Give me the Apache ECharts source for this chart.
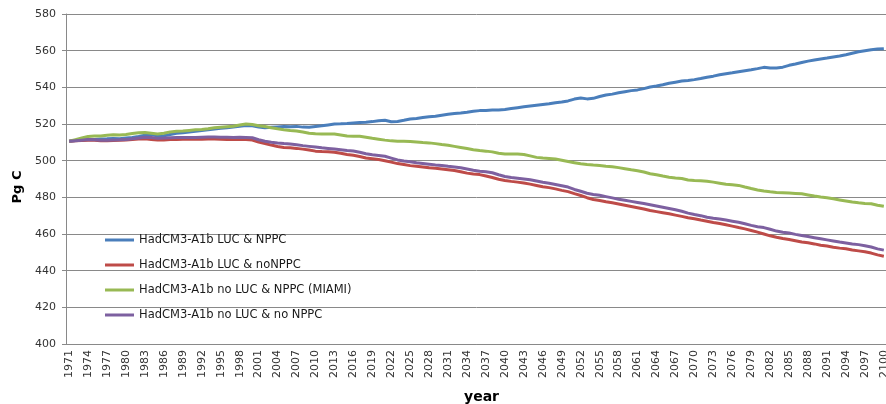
<!DOCTYPE html>
<html>
<head>
<meta charset="utf-8">
<script src="https://cdn.jsdelivr.net/npm/echarts@6/dist/echarts.min.js"></script>
<style>
  html, body { margin: 0; padding: 0; background: #ffffff; }
  #chart { width: 886px; height: 404px; }
</style>
</head>
<body>
<div id="chart"></div>
<script>
// Years on the category axis, 1971 to 2100
const years = [];
for (let y = 1971; y <= 2100; y++) years.push(String(y));

// Y axis ticks (Pg C)
const yTicks = [400, 420, 440, 460, 480, 500, 520, 540, 560, 580];

const seriesNames = [
  'HadCM3-A1b LUC & NPPC',
  'HadCM3-A1b LUC & noNPPC',
  'HadCM3-A1b no LUC & NPPC (MIAMI)',
  'HadCM3-A1b no LUC & no NPPC'
];

// HadCM3-A1b LUC & NPPC
const lucNppc = [
  510.6, 511.0, 511.3, 511.6, 511.5, 511.8, 511.9, 512.1, 512.0, 512.3,
  512.6, 513.2, 513.9, 514.2, 513.4, 513.6, 514.3, 514.9, 515.2, 515.6,
  516.0, 516.5, 516.8, 517.3, 517.7, 518.0, 518.3, 518.7, 519.2, 519.0,
  518.4, 518.0, 518.2, 518.4, 518.6, 518.5, 518.7, 518.3, 518.2, 518.6,
  519.0, 519.5, 520.0, 520.1, 520.3, 520.6, 520.8, 521.0, 521.3, 521.8,
  522.0, 521.2, 521.4, 522.0, 522.7, 523.0, 523.5, 523.9, 524.2, 524.8,
  525.3, 525.7, 526.0, 526.4, 526.9, 527.3, 527.4, 527.6, 527.7, 527.9,
  528.4, 528.9, 529.4, 529.8, 530.2, 530.6, 531.0, 531.6, 532.0, 532.6,
  533.6, 534.2, 533.7, 534.0, 535.0, 535.8, 536.3, 537.0, 537.6, 538.2,
  538.6, 539.3, 540.2, 540.7, 541.4, 542.2, 542.8, 543.4, 543.7, 544.2,
  544.8, 545.5, 546.1, 546.9, 547.4, 547.9, 548.5, 549.1, 549.6, 550.2,
  550.9, 550.5, 550.6, 551.0, 552.0, 552.7, 553.5, 554.3, 554.9, 555.5,
  556.0, 556.6, 557.1, 557.8, 558.6, 559.4, 560.0, 560.5, 560.9, 561.1
];

// HadCM3-A1b LUC & noNPPC
const lucNoNppc = [
  510.6, 510.8, 511.0, 511.2, 511.1, 510.9, 510.9, 511.0, 511.1, 511.3,
  511.5, 511.8, 511.9, 511.6, 511.3, 511.3, 511.5, 511.6, 511.7, 511.7,
  511.7, 511.7, 511.8, 511.8, 511.7, 511.6, 511.5, 511.5, 511.5, 511.3,
  510.2, 509.4, 508.5, 507.7, 507.2, 507.0, 506.7, 506.3, 505.8, 505.2,
  505.0, 504.9, 504.6, 504.0, 503.4, 502.9, 502.3, 501.5, 501.1, 500.6,
  500.0, 499.2, 498.4, 497.9, 497.3, 496.9, 496.5, 496.1, 495.8, 495.5,
  495.1, 494.6, 494.0, 493.2, 492.7, 492.4, 491.6, 490.8, 489.9, 489.2,
  488.7, 488.3, 487.8, 487.2, 486.5, 485.8, 485.3, 484.6, 483.8, 483.1,
  482.0, 481.0, 479.8, 478.8, 478.3, 477.6, 477.0, 476.4, 475.7, 475.0,
  474.3, 473.6, 472.8, 472.2, 471.6, 471.0, 470.3, 469.6, 468.9, 468.3,
  467.6, 467.0, 466.3, 465.7, 465.0, 464.3, 463.5, 462.8, 461.9, 461.0,
  460.0, 459.0, 458.2, 457.5, 457.0, 456.3, 455.6, 455.2, 454.6, 453.9,
  453.4, 452.8, 452.3, 451.9, 451.3, 450.8, 450.3, 449.6, 448.6, 447.9
];

// HadCM3-A1b no LUC & NPPC (MIAMI)
const noLucNppc = [
  510.6, 511.5, 512.4, 513.2, 513.4, 513.5, 513.9, 514.2, 514.0, 514.3,
  514.8, 515.2, 515.4, 515.0, 514.6, 515.0, 515.7, 516.0, 516.2, 516.5,
  516.8, 517.0, 517.4, 517.9, 518.2, 518.5, 518.8, 519.4, 520.0, 519.7,
  519.0, 518.6, 518.0, 517.4, 516.9, 516.5, 516.2, 515.6, 515.0, 514.7,
  514.6, 514.6, 514.5, 514.0, 513.4, 513.3, 513.3, 512.8, 512.2, 511.7,
  511.2, 510.8, 510.6, 510.6, 510.5, 510.2, 509.9, 509.7, 509.3, 508.8,
  508.4, 507.8, 507.2, 506.6, 506.0, 505.5, 505.2, 504.8, 504.0, 503.7,
  503.7, 503.6, 503.4, 502.6, 501.8, 501.4, 501.2, 500.9, 500.2, 499.5,
  498.9, 498.3, 497.9, 497.6, 497.4, 497.0, 496.7, 496.2, 495.6, 495.0,
  494.5, 493.8, 492.9, 492.3, 491.6, 491.0, 490.6, 490.3, 489.5, 489.2,
  489.0, 488.8, 488.3, 487.7, 487.1, 486.8, 486.5, 485.6, 484.8, 484.0,
  483.4, 483.0, 482.7, 482.5, 482.3, 482.1, 481.9, 481.3, 480.7, 480.2,
  479.8, 479.2, 478.6, 478.0, 477.4, 477.0, 476.7, 476.5, 475.7, 475.1
];

// HadCM3-A1b no LUC & no NPPC
const noLucNoNppc = [
  510.6, 510.9, 511.2, 511.5, 511.4, 511.2, 511.1, 511.3, 511.4, 511.6,
  511.9, 512.4, 512.8, 512.6, 512.2, 512.3, 512.5, 512.6, 512.6, 512.7,
  512.7, 512.8, 512.9, 512.9, 512.8, 512.8, 512.7, 512.8, 512.7, 512.5,
  511.4, 510.6, 510.0, 509.6, 509.3, 509.1, 508.7, 508.2, 507.8, 507.4,
  507.0, 506.7, 506.4, 506.0, 505.6, 505.3, 504.6, 503.8, 503.2, 502.8,
  502.4, 501.4, 500.4, 499.8, 499.4, 498.9, 498.5, 498.1, 497.7, 497.4,
  496.9, 496.5, 496.1, 495.5, 494.8, 494.2, 493.9, 493.4, 492.3, 491.4,
  490.8, 490.4, 490.0, 489.6, 488.9, 488.2, 487.7, 487.0, 486.3, 485.6,
  484.3, 483.3, 482.2, 481.6, 481.1, 480.4, 479.7, 479.0, 478.4, 477.8,
  477.2, 476.6, 476.0, 475.3, 474.6, 473.9, 473.2, 472.4, 471.4, 470.6,
  470.0, 469.1, 468.6, 468.2, 467.6, 467.0, 466.4, 465.6, 464.7, 464.0,
  463.5, 462.6, 461.6, 461.0, 460.5, 459.8, 459.2, 458.6, 458.0, 457.4,
  456.8, 456.2, 455.6, 455.1, 454.6, 454.2, 453.6, 452.9, 451.9, 451.2
];

const colors = ['#4a7ebb', '#be4b48', '#98b954', '#7d60a0'];
const seriesData = [lucNppc, lucNoNppc, noLucNppc, noLucNoNppc];

const FONT = 'DejaVu Sans';
const GRID_GREY = '#898989';

const chart = echarts.init(document.getElementById('chart'), null, { renderer: 'canvas' });

chart.setOption({
  animation: false,
  backgroundColor: '#ffffff',
  color: colors,
  grid: {
    left: 66, right: -1, top: 14, bottom: 60,
    containLabel: false,
    outerBoundsMode: 'none'
  },
  legend: {
    orient: 'vertical',
    left: 100,
    top: 229,
    itemWidth: 29,
    itemHeight: 3,
    itemGap: 13,
    icon: 'rect',
    data: seriesNames,
    textStyle: { fontFamily: FONT, fontSize: 11.5, color: '#1a1a1a' }
  },
  xAxis: {
    type: 'category',
    data: years,
    boundaryGap: true,
    name: 'year',
    nameLocation: 'middle',
    nameGap: 46,
    nameTextStyle: {
      fontFamily: FONT, fontSize: 14, fontWeight: 'bold', color: '#000',
      padding: [0, 0, 0, 10]
    },
    axisLine: { show: true, lineStyle: { color: GRID_GREY, width: 1 } },
    axisTick: { show: false },
    axisLabel: {
      interval: 2,
      rotate: 90,
      margin: 6,
      padding: [4, 0, 0, 0],
      fontFamily: FONT,
      fontSize: 11,
      color: '#333'
    },
    splitLine: { show: false }
  },
  yAxis: {
    type: 'value',
    min: yTicks[0],
    max: yTicks[yTicks.length - 1],
    interval: 20,
    name: 'Pg C',
    nameLocation: 'middle',
    nameGap: 42,
    nameTextStyle: {
      fontFamily: FONT, fontSize: 13, fontWeight: 'bold', color: '#000',
      padding: [0, 16, 0, 0]
    },
    axisLine: { show: true, lineStyle: { color: GRID_GREY, width: 1 } },
    axisTick: { show: true, length: 4, lineStyle: { color: GRID_GREY } },
    axisLabel: { margin: 10, fontFamily: FONT, fontSize: 11, color: '#333' },
    splitLine: { show: true, lineStyle: { color: GRID_GREY, width: 1 } }
  },
  series: seriesNames.map((name, i) => ({
    name: name,
    type: 'line',
    data: seriesData[i],
    showSymbol: false,
    symbol: 'none',
    lineStyle: { width: 3, color: colors[i] },
    itemStyle: { color: colors[i] },
    emphasis: { disabled: true }
  }))
});
</script>
</body>
</html>
